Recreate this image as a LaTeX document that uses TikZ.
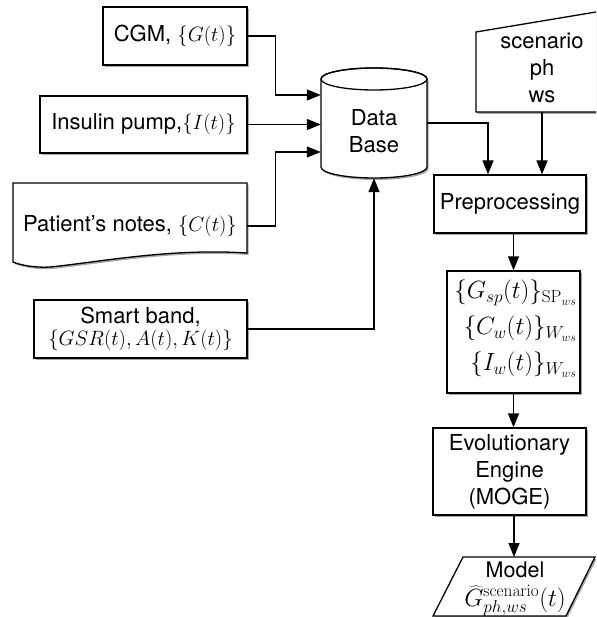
\documentclass[tikz,border=0pt]{standalone}
\usepackage[no-math]{fontspec}
\setmainfont{TeX Gyre Heros}
\usetikzlibrary{arrows.meta,shadows}
\begin{document}
\begin{tikzpicture}[x=1pt,y=-1pt,
  txt/.style={font=\fontsize{22}{27}\selectfont, align=center, inner sep=0pt},
  shad/.style={drop shadow={shadow xshift=1.5pt, shadow yshift=-2pt, opacity=0.35, fill=black}},
  box/.style={txt, draw, line width=1.3pt, fill=white, shad},
  shapebox/.style={draw, line width=1.3pt, fill=white, shad},
  arr/.style={line width=1.3pt, -{Triangle[length=14pt,width=11pt]}}]
\clip (0,0) rectangle (596,617);
% input boxes
\node[box, minimum width=144pt, minimum height=58pt] (cgm) at (175,36) {CGM, $\{G(t)\}$};
\node[box, minimum width=207pt, minimum height=57pt] (ins) at (143.5,124.5) {Insulin pump,$\{I(t)\}$};
\draw[shapebox] (13,183) -- (247,183) -- (247,253)
  .. controls (170,248) and (100,262) .. (50,267)
  .. controls (35,268) and (20,265) .. (13,262) -- cycle;
\node[txt, minimum width=234pt, minimum height=80pt] (notes) at (130,226) {Patient’s notes, $\{C(t)\}$};
\node[box, minimum width=213pt, minimum height=58pt] (sb) at (140.5,329) {Smart band,\\[-5pt] $\{GSR(t),A(t),K(t)\}$};
% database cylinder
\draw[shapebox] (321,79) -- (321,167) arc[start angle=180, end angle=360, x radius=53pt, y radius=11pt] -- (427,79)
  arc[start angle=0, end angle=180, x radius=53pt, y radius=11pt] -- cycle;
\draw[line width=1.3pt] (374,79) ellipse [x radius=53pt, y radius=11pt];
\node[txt, minimum width=106pt, minimum height=94pt] (db) at (374,131) {Data\\Base};
% scenario manual input
\draw[shapebox] (476,32) -- (620,8) -- (620,112) -- (476,112) -- cycle;
\node[txt] (scen) at (542,68) {scenario\\ph\\ws};
\coordinate (scenb) at (542,112);
% processing chain
\node[box, minimum width=152pt, minimum height=58pt] (prep) at (510,204) {Preprocessing};
\node[box, minimum width=133pt, minimum height=122pt] (data) at (513.5,332) {};
\node[font=\fontsize{26}{36}\selectfont, align=right, inner sep=0pt, anchor=north east] (dtext) at (577,280)
  {$\{G_{sp}(t)\}_{\mathrm{SP}_{ws}}$\\$\{C_w(t)\}_{W_{ws}}$\\$\{I_w(t)\}_{W_{ws}}$};
\node[box, minimum width=153pt, minimum height=87pt] (evo) at (509.5,471.5) {Evolutionary\\Engine\\(MOGE)};
\draw[shapebox] (463,557) -- (595,557) -- (566,616) -- (433,616) -- cycle;
\coordinate (mtop) at (514,557);
\node[txt, font=\fontsize{21.5}{26}\selectfont, anchor=base] (model) at (515,577) {Model};
\node[font=\fontsize{23}{28}\selectfont, inner sep=0pt, anchor=base] (mform) at (515,606) {$\widehat{G}^{\mathrm{scenario}}_{ph,ws}(t)$};
% connectors
\draw[arr] (cgm.east) -- ++(28,0) |- ([yshift=36pt]db.west);
\draw[arr] (ins.east) -- (ins.east -| db.west);
\draw[arr] (notes.east) -- ++(28,0) |- ([yshift=-21pt]db.west);
\draw[arr] (sb.east) -| (db.south);
\draw[arr] ([yshift=8pt]db.east) -| ([xshift=-22pt]prep.north);
\draw[arr] (scenb) -- (scenb |- prep.north);
\draw[arr] (prep.south -| data.north) -- (data.north);
\draw[arr] (data.south) -- (data.south |- evo.north);
\draw[arr] (evo.south -| mtop) -- (mtop);
\end{tikzpicture}
\end{document}
